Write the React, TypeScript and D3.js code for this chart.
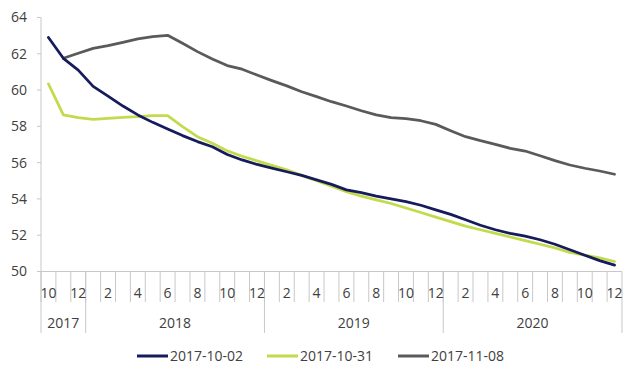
import React from "react";
import * as d3 from "d3";

const categories: string[] = [
  "2017-10", "2017-11", "2017-12",
  "2018-01", "2018-02", "2018-03", "2018-04", "2018-05", "2018-06",
  "2018-07", "2018-08", "2018-09", "2018-10", "2018-11", "2018-12",
  "2019-01", "2019-02", "2019-03", "2019-04", "2019-05", "2019-06",
  "2019-07", "2019-08", "2019-09", "2019-10", "2019-11", "2019-12",
  "2020-01", "2020-02", "2020-03", "2020-04", "2020-05", "2020-06",
  "2020-07", "2020-08", "2020-09", "2020-10", "2020-11", "2020-12",
];

const seriesNames = ["2017-10-02", "2017-10-31", "2017-11-08"];
const seriesColors = ["#161b5c", "#c2db4c", "#5a5a5a"];

const s20171002: (number | null)[] = [
  62.9, 61.75, 61.1, 60.2, 59.67, 59.12, 58.63, 58.22, 57.85, 57.49, 57.16, 56.88,
  56.45, 56.15, 55.9, 55.7, 55.5, 55.3, 55.05, 54.8, 54.5, 54.35, 54.15, 54.0,
  53.85, 53.65, 53.4, 53.15, 52.85, 52.55, 52.3, 52.1, 51.95, 51.75, 51.5, 51.2,
  50.9, 50.6, 50.35,
];

const s20171031: (number | null)[] = [
  60.34, 58.63, 58.48, 58.39, 58.44, 58.5, 58.53, 58.59, 58.59, 57.98, 57.43, 57.07,
  56.65, 56.35, 56.1, 55.85, 55.6, 55.3, 55.0, 54.7, 54.4, 54.15, 53.95, 53.75,
  53.5, 53.25, 53.0, 52.75, 52.5, 52.3, 52.1, 51.9, 51.7, 51.5, 51.3, 51.05,
  50.9, 50.75, 50.55,
];

const s20171108: (number | null)[] = [
  null, 61.75, 62.03, 62.3, 62.45, 62.63, 62.82, 62.94, 63.02, 62.58, 62.12, 61.71,
  61.35, 61.15, 60.83, 60.52, 60.23, 59.91, 59.64, 59.36, 59.12, 58.86, 58.63, 58.48,
  58.42, 58.31, 58.11, 57.76, 57.43, 57.21, 57.01, 56.79, 56.64, 56.38, 56.11, 55.87,
  55.69, 55.54, 55.36,
];

const yTicks = [50, 52, 54, 56, 58, 60, 62, 64];

const allSeries = [s20171002, s20171031, s20171108];

const FONT = "'Open Sans', 'Liberation Sans', sans-serif";
const TEXT = "#404040";
const AXIS = "#c8c8c8";

export default function App() {
  const left = 41;
  const right = 622;
  const top = 17.5;
  const bottom = 271.5;

  const x = d3
    .scaleBand<number>()
    .domain(categories.map((_, i) => i))
    .range([left, right])
    .padding(0);
  const y = d3.scaleLinear().domain([50, 64]).range([bottom, top]);

  const bw = x.bandwidth();
  const cx = (i: number) => (x(i) as number) + bw / 2;

  const line = d3
    .line<number | null>()
    .defined((d) => d !== null)
    .x((_, i) => cx(i))
    .y((d) => y(d as number));

  // year groups
  const groups: { year: string; start: number; end: number }[] = [];
  categories.forEach((c, i) => {
    const yr = c.slice(0, 4);
    const g = groups[groups.length - 1];
    if (g && g.year === yr) g.end = i;
    else groups.push({ year: yr, start: i, end: i });
  });

  const tickBottom = 302;
  const yearBottom = 333;

  const legendX = [137, 267, 398];
  const legendY = 356;

  return (
    <svg
      width={640}
      height={380}
      style={{ position: "absolute", left: 0, top: 0, background: "#fff" }}
      fontFamily={FONT}
    >
      <rect x={0} y={0} width={640} height={380} fill="#fff" />
      {/* y axis */}
      <line x1={left} x2={left} y1={top} y2={bottom} stroke={AXIS} strokeWidth={1} />
      {yTicks.map((t) => (
        <g key={t}>
          <line x1={left - 4} x2={left} y1={y(t)} y2={y(t)} stroke={AXIS} />
          <text
            x={27}
            y={y(t)}
            dy="0.35em"
            textAnchor="end"
            fontSize={14}
            fill={TEXT}
          >
            {t}
          </text>
        </g>
      ))}
      {/* x axis */}
      <line x1={left - 4} x2={right} y1={bottom} y2={bottom} stroke={AXIS} />
      {categories.map((c, i) => (
        <line
          key={"b" + c}
          x1={x(i) as number}
          x2={x(i) as number}
          y1={bottom}
          y2={tickBottom}
          stroke={AXIS}
        />
      ))}
      <line x1={right} x2={right} y1={bottom} y2={yearBottom} stroke={AXIS} />
      {groups.map((g) => (
        <line
          key={"y" + g.year}
          x1={x(g.start) as number}
          x2={x(g.start) as number}
          y1={bottom}
          y2={yearBottom}
          stroke={AXIS}
        />
      ))}
      {categories.map((c, i) =>
        i % 2 === 0 ? (
          <text
            key={"m" + c}
            x={cx(i)}
            y={298}
            textAnchor="middle"
            fontSize={14}
            fill={TEXT}
          >
            {String(parseInt(c.slice(5), 10))}
          </text>
        ) : null
      )}
      {groups.map((g) => (
        <text
          key={"yl" + g.year}
          x={((x(g.start) as number) + (x(g.end) as number) + bw) / 2}
          y={328}
          textAnchor="middle"
          fontSize={14}
          fill={TEXT}
        >
          {g.year}
        </text>
      ))}
      {/* lines */}
      {[2, 1, 0].map((k) => (
        <path
          key={"s" + k}
          d={line(allSeries[k]) || ""}
          fill="none"
          stroke={seriesColors[k]}
          strokeWidth={2.75}
          strokeLinejoin="round"
          strokeLinecap="round"
        />
      ))}
      {/* legend */}
      {seriesNames.map((n, k) => (
        <g key={n}>
          <line
            x1={legendX[k]}
            x2={legendX[k] + 31}
            y1={legendY}
            y2={legendY}
            stroke={seriesColors[k]}
            strokeWidth={3}
          />
          <text x={legendX[k] + 33} y={legendY} dy="0.35em" fontSize={14} fill={TEXT}>
            {n}
          </text>
        </g>
      ))}
    </svg>
  );
}
